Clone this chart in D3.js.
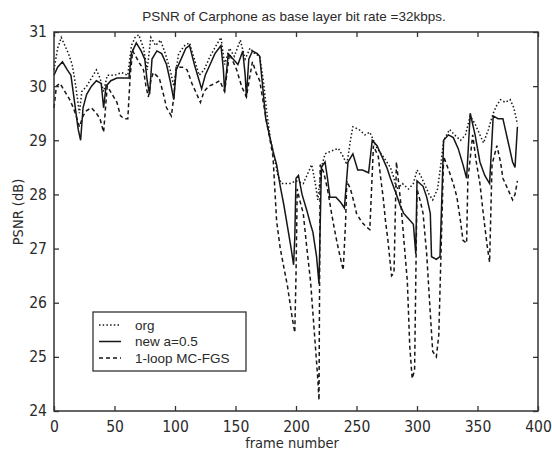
<!DOCTYPE html>
<html>
<head>
<meta charset="utf-8">
<script src="https://cdn.jsdelivr.net/npm/d3@7/dist/d3.min.js"></script>
<style>
  body { margin: 0; background: #fff; }
  .tick line { stroke: #333; stroke-width: 1.3px; }
  .tick text { font-family: "Liberation Sans Narrow", "DejaVu Sans Condensed", sans-serif; font-size: 15.5px; fill: #2a2a2a; }
</style>
</head>
<body>
<svg id="chart"></svg>
<script>
// DATA ////////////////////////////////////////////////////////////////////////

var title = "PSNR of Carphone as base layer bit rate =32kbps.";
var x_ticks = [0, 50, 100, 150, 200, 250, 300, 350, 400];
var y_ticks = [24, 25, 26, 27, 28, 29, 30, 31];
var series_names = ["org", "new a=0.5", "1-loop MC-FGS"];

// org (dotted)
var org_frames = [0, 3, 6, 9, 12, 15, 18, 21, 23, 27, 31, 35, 38, 41, 44, 50, 56, 61, 64, 67, 70, 74, 77, 80, 84, 88, 92, 96, 99,
    103, 108, 112, 116, 120, 124, 129, 134, 138, 141, 145, 149, 154, 158, 162, 166, 170, 173, 176, 179, 182, 185, 188, 195,
    200, 206, 210, 213, 216, 218, 221, 224, 229, 235, 239, 242, 245, 247, 252, 257, 261, 264, 267, 272, 278, 281, 283, 288,
    293, 297, 300, 303, 306, 310, 313, 317, 320, 322, 327, 331, 336, 340, 344, 348, 352, 355, 359, 363, 366, 369, 373, 377,
    380, 383];
var org_psnr = [30.3, 30.7, 30.9, 30.75, 30.6, 30.4, 30.0, 29.5, 29.9, 30.0, 30.15, 30.3, 30.15, 29.9, 30.2, 30.2, 30.25, 30.2,
    30.75, 30.9, 30.95, 30.7, 30.3, 30.9, 30.75, 30.85, 30.6, 30.3, 30.0, 30.6, 30.75, 30.8, 30.5, 30.2, 30.3, 30.55, 30.75,
    30.9, 30.4, 30.7, 30.55, 30.85, 30.5, 30.7, 30.6, 30.55, 30.1, 29.5, 29.0, 28.7, 28.35, 28.2, 28.2, 28.25, 28.2, 28.4,
    28.55, 28.2, 27.9, 28.5, 28.75, 28.8, 28.85, 28.7, 28.55, 29.0, 29.25, 29.2, 29.1, 29.15, 29.0, 28.85, 28.7, 28.5, 28.3,
    28.1, 28.2, 28.1, 28.2, 28.45, 28.35, 28.2, 28.0, 27.9, 28.1, 28.6, 29.0, 29.2, 29.1, 29.0, 29.1, 29.45, 29.3, 29.1,
    28.95, 29.2, 29.5, 29.65, 29.75, 29.7, 29.75, 29.6, 29.3];

// new a=0.5 (solid)
var new_frames = [0, 3, 7, 11, 14, 17, 20, 22, 24, 27, 31, 35, 39, 41, 43, 47, 52, 57, 62, 64, 68, 72, 75, 77, 79, 81, 85, 89,
    93, 96, 99, 101, 105, 109, 112, 116, 120, 122, 125, 129, 133, 138, 140, 141, 144, 148, 152, 156, 158, 159, 161, 164, 168,
    170, 172, 175, 178, 181, 184, 187, 190, 193, 196, 198, 199, 200, 202, 205, 209, 212, 214, 217, 219, 221, 224, 226, 228,
    233, 237, 240, 243, 247, 251, 255, 260, 263, 267, 271, 275, 278, 283, 286, 289, 293, 297, 299, 300, 305, 308, 311, 312,
    316, 319, 322, 326, 330, 334, 338, 341, 344, 348, 352, 356, 360, 363, 367, 371, 375, 379, 381, 383];
var new_psnr = [30.2, 30.35, 30.45, 30.3, 30.2, 29.7, 29.2, 29.0, 29.6, 29.85, 30.0, 30.1, 30.05, 29.6, 30.0, 30.1, 30.15,
    30.15, 30.15, 30.6, 30.8, 30.65, 30.5, 30.1, 29.85, 30.5, 30.65, 30.6, 30.4, 30.1, 29.75, 30.3, 30.5, 30.7, 30.75, 30.4,
    30.1, 29.95, 30.2, 30.4, 30.6, 30.75, 30.3, 29.9, 30.6, 30.5, 30.4, 30.65, 30.2, 29.8, 30.5, 30.65, 30.6, 30.55, 30.1,
    29.4, 29.1, 28.8, 28.55, 28.15, 27.8, 27.4, 27.0, 26.7, 27.2, 28.3, 28.35, 28.0, 27.7, 27.45, 27.3, 26.85, 26.35, 28.5,
    28.6, 28.3, 27.95, 27.95, 27.85, 27.75, 28.6, 28.75, 28.45, 28.45, 28.4, 29.0, 28.9, 28.7, 28.5, 28.3, 28.0, 27.8, 27.65,
    27.55, 27.45, 26.9, 28.25, 28.15, 27.95, 27.65, 26.85, 26.8, 26.85, 29.0, 29.1, 29.05, 28.85, 28.55, 28.3, 29.5, 29.1,
    28.6, 28.35, 28.2, 29.45, 29.4, 29.4, 29.0, 28.6, 28.5, 29.25];

// 1-loop MC-FGS (dashed)
var mcfgs_frames = [0, 2, 5, 9, 13, 16, 19, 21, 24, 27, 31, 35, 38, 41, 44, 48, 52, 55, 58, 61, 63, 65, 70, 74, 76, 78, 80, 82,
    87, 91, 93, 97, 99, 101, 106, 110, 114, 118, 121, 124, 128, 133, 137, 141, 145, 148, 151, 155, 159, 162, 164, 167, 170,
    173, 176, 179, 181, 184, 187, 190, 193, 195, 197, 199, 200, 201, 203, 206, 209, 212, 214, 216, 218, 219, 220, 223, 226,
    229, 231, 234, 236, 239, 241, 242, 245, 248, 250, 254, 258, 261, 264, 268, 270, 272, 274, 276, 278, 279, 281, 283, 287,
    289, 292, 294, 296, 298, 300, 303, 305, 308, 311, 313, 316, 318, 320, 322, 327, 330, 333, 336, 338, 341, 342, 346, 349,
    352, 355, 358, 360, 362, 366, 369, 371, 374, 377, 379, 381, 383];
var mcfgs_psnr = [29.6, 30.0, 30.05, 29.9, 29.75, 29.6, 29.4, 29.25, 29.45, 29.55, 29.6, 29.5, 29.4, 29.15, 30.0, 29.85, 29.7,
    29.45, 29.4, 29.4, 30.2, 30.65, 30.45, 30.3, 30.0, 29.8, 30.1, 30.25, 30.15, 29.8, 29.6, 29.45, 29.8, 30.35, 30.35, 30.3,
    30.05, 29.85, 29.7, 29.9, 30.0, 30.05, 30.1, 29.9, 30.6, 30.45, 30.3, 30.0, 29.8, 30.2, 30.45, 30.25, 30.1, 29.7, 29.3,
    28.95, 28.7, 27.5, 27.0, 26.65, 26.3, 26.0, 25.7, 25.45, 26.5, 28.1, 27.9, 27.65, 27.0, 26.4, 25.8, 25.2, 24.6, 24.2,
    28.55, 28.4, 28.1, 27.7, 27.45, 27.1, 26.9, 26.6, 27.5, 28.25, 28.1, 27.85, 27.65, 27.5, 27.4, 27.35, 28.9, 28.7, 28.3,
    27.95, 27.5, 27.15, 26.7, 26.5, 26.55, 28.6, 27.75, 27.2, 26.4, 25.2, 24.6, 24.75, 28.1, 27.85, 27.65, 26.9, 25.8, 25.1,
    25.0, 25.4, 27.05, 28.7, 28.4, 28.2, 27.95, 27.5, 27.15, 27.1, 28.25, 29.1, 28.6, 28.2, 27.6, 27.05, 26.75, 28.55, 28.9,
    28.6, 28.3, 28.15, 28.0, 27.9, 28.0, 28.25];

// SETUP ///////////////////////////////////////////////////////////////////////

const WIDTH = 552, HEIGHT = 453;
const PLOT_LEFT = 54, PLOT_RIGHT = 538, PLOT_TOP = 32, PLOT_BOTTOM = 411;
const INK = "#161616";

var svg = d3.select("#chart").attr("width", WIDTH).attr("height", HEIGHT);

var x = d3.scaleLinear().domain([0, 400]).range([PLOT_LEFT, PLOT_RIGHT]);
var y = d3.scaleLinear().domain([24, 31]).range([PLOT_BOTTOM, PLOT_TOP]);

function zipSeries(frames, vals) {
    return frames.map(function (f, i) { return { frame: f, psnr: vals[i] }; });
}

var series = [
    { name: series_names[0], data: zipSeries(org_frames, org_psnr), dash: "1.5,2.2" },
    { name: series_names[1], data: zipSeries(new_frames, new_psnr), dash: null },
    { name: series_names[2], data: zipSeries(mcfgs_frames, mcfgs_psnr), dash: "4,3" }
];

var line = d3.line()
    .x(function (d) { return x(d.frame); })
    .y(function (d) { return y(d.psnr); });

// LINES ///////////////////////////////////////////////////////////////////////

svg.append("g").selectAll("path")
    .data(series)
    .enter()
    .append("path")
    .attr("d", function (d) { return line(d.data); })
    .attr("fill", "none")
    .attr("stroke", INK)
    .attr("stroke-width", 1.5)
    .attr("stroke-dasharray", function (d) { return d.dash; });

// AXES ////////////////////////////////////////////////////////////////////////

// bottom axis, ticks point inward
svg.append("g")
    .attr("transform", "translate(0," + PLOT_BOTTOM + ")")
    .call(d3.axisBottom(x).tickValues(x_ticks).tickSize(-5).tickPadding(6).tickFormat(d3.format("d")))
    .call(function (g) { g.select(".domain").remove(); })
    .selectAll("text").attr("dy", "0.95em");

// top axis, ticks only
svg.append("g")
    .attr("transform", "translate(0," + PLOT_TOP + ")")
    .call(d3.axisTop(x).tickValues(x_ticks).tickSize(-5).tickFormat(""))
    .call(function (g) { g.select(".domain").remove(); });

// left axis
svg.append("g")
    .attr("transform", "translate(" + PLOT_LEFT + ",0)")
    .call(d3.axisLeft(y).tickValues(y_ticks).tickSize(-5).tickPadding(7).tickFormat(d3.format("d")))
    .call(function (g) { g.select(".domain").remove(); });

// right axis, ticks only
svg.append("g")
    .attr("transform", "translate(" + PLOT_RIGHT + ",0)")
    .call(d3.axisRight(y).tickValues(y_ticks).tickSize(-5).tickFormat(""))
    .call(function (g) { g.select(".domain").remove(); });

// box
svg.append("rect")
    .attr("x", PLOT_LEFT).attr("y", PLOT_TOP)
    .attr("width", PLOT_RIGHT - PLOT_LEFT).attr("height", PLOT_BOTTOM - PLOT_TOP)
    .attr("fill", "none").attr("stroke", "#333").attr("stroke-width", 1.5);

// LABELS //////////////////////////////////////////////////////////////////////

svg.append("text")
    .text(title)
    .attr("x", 294).attr("y", 21)
    .style("text-anchor", "middle")
    .style("font-family", "'Liberation Sans', Arial, sans-serif")
    .style("font-size", "13.5px")
    .style("fill", "#2a2a2a");

svg.append("text")
    .text("frame number")
    .attr("x", (PLOT_LEFT + PLOT_RIGHT) / 2 - 4).attr("y", 448)
    .style("text-anchor", "middle")
    .style("font-family", "'Liberation Sans Narrow', 'DejaVu Sans Condensed', sans-serif")
    .style("font-size", "14.5px")
    .style("fill", "#2a2a2a");

svg.append("text")
    .text("PSNR (dB)")
    .attr("transform", "translate(23,212) rotate(-90)")
    .style("text-anchor", "middle")
    .style("font-family", "'Liberation Sans Narrow', 'DejaVu Sans Condensed', sans-serif")
    .style("font-size", "14.5px")
    .style("fill", "#2a2a2a");

// LEGEND //////////////////////////////////////////////////////////////////////

var legend = svg.append("g").attr("transform", "translate(93,312)");

legend.append("rect")
    .attr("width", 153).attr("height", 59)
    .attr("fill", "#fff").attr("stroke", "#333").attr("stroke-width", 1.3);

var legend_row = legend.selectAll("g.row")
    .data(series)
    .enter()
    .append("g")
    .attr("class", "row")
    .attr("transform", function (d, i) { return "translate(0," + (13 + i * 16.5) + ")"; });

legend_row.append("line")
    .attr("x1", 6).attr("x2", 28)
    .attr("stroke", INK).attr("stroke-width", 1.5)
    .attr("stroke-dasharray", function (d) { return d.dash; });

legend_row.append("text")
    .text(function (d) { return d.name; })
    .attr("x", 42).attr("y", 4.5)
    .style("font-family", "'Liberation Sans', Arial, sans-serif")
    .style("font-size", "13.5px")
    .style("fill", "#2a2a2a");
</script>
</body>
</html>
